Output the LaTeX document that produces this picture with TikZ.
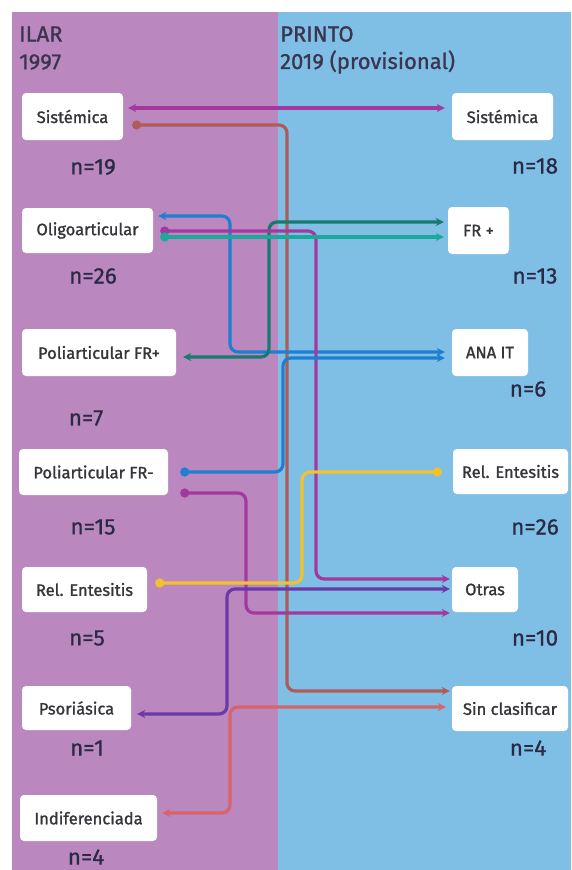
\documentclass[tikz,border=0pt]{standalone}
\usepackage{fontspec}
\setmainfont{Fira Sans}
\usetikzlibrary{arrows.meta}
\definecolor{bgpurple}{HTML}{BA88BE}
\definecolor{bgblue}{HTML}{80BFE5}
\definecolor{boxtext}{HTML}{35353A}
\definecolor{ntext}{HTML}{2B2A45}
\definecolor{hdrtext}{HTML}{3B3550}
\definecolor{magc}{HTML}{A3399E}
\definecolor{brownc}{HTML}{B05A5A}
\definecolor{bluec}{HTML}{1E7FD0}
\definecolor{tealc}{HTML}{1AAA9A}
\definecolor{dtealc}{HTML}{167A6E}
\definecolor{yellowc}{HTML}{F2C12E}
\definecolor{violetc}{HTML}{6A3AA8}
\definecolor{pinkc}{HTML}{D9636B}
\newcommand\myboxfont{\fontsize{16.5}{19}\selectfont\addfontfeature{FakeBold=1.3}}
\newcommand\mynfont{\fontsize{22.5}{26}\selectfont\addfontfeature{FakeBold=0.8}}
\newcommand\myhdrfont{\fontsize{22}{26}\selectfont\addfontfeature{FakeBold=1}}
\tikzset{
  lbox/.style={fill=white, rounded corners=4pt, font=\myboxfont, text=boxtext, inner sep=0pt},
  nlab/.style={font=\mynfont, text=ntext, inner sep=0pt},
  hdr/.style={font=\myhdrfont, text=hdrtext, inner sep=0pt, anchor=west},
  conn/.style={line width=3.2pt, rounded corners=8pt},
  mytip/.tip={Stealth[length=8pt,width=8pt]},
  mydot/.tip={Circle[length=9pt]}
}
\begin{document}
\begin{tikzpicture}[x=1pt,y=-1pt]
\useasboundingbox (0,0) rectangle (571,870);
\fill[white] (0,0) rectangle (571,870);
\fill[bgpurple] (12,12) rectangle (278,870);
\fill[bgblue] (278,12) rectangle (571,870);

% headers
\node[hdr] (h1) at (19,34) {ILAR};
\node[hdr] (h2) at (19,62) {1997};
\node[hdr] (h3) at (280,34) {PRINTO};
\node[hdr] (h4) at (280,62) {2019 (provisional)};

% left boxes
\node[lbox, minimum width=101pt, minimum height=47pt] (lSis) at (72.5,116.5) {Sistémica};
\node[lbox, minimum width=131pt, minimum height=45pt] (lOli) at (87.5,230.5) {Oligoarticular};
\node[lbox, minimum width=154pt, minimum height=47pt] (lPp) at (99,352.5) {Poliarticular FR+};
\node[lbox, minimum width=149pt, minimum height=46pt] (lPm) at (93.5,472) {Poliarticular FR-};
\node[lbox, minimum width=125pt, minimum height=45pt] (lRe) at (84.5,589.5) {Rel. Entesitis};
\node[lbox, minimum width=109pt, minimum height=44pt] (lPso) at (76.5,708) {Psoriásica};
\node[lbox, minimum width=137pt, minimum height=46pt] (lInd) at (88.5,818) {Indiferenciada};

% right boxes
\node[lbox, minimum width=101pt, minimum height=47pt] (rSis) at (502.5,116.5) {Sistémica};
\node[lbox, minimum width=61pt, minimum height=47pt] (rFR) at (478.5,230.5) {FR +};
\node[lbox, minimum width=76pt, minimum height=47pt] (rAna) at (490,352.5) {ANA IT};
\node[lbox, minimum width=115pt, minimum height=45pt] (rRe) at (510.5,471.5) {Rel. Entesitis};
\node[lbox, minimum width=66pt, minimum height=45pt] (rOtr) at (485,589.5) {Otras};
\node[lbox, minimum width=116pt, minimum height=45pt] (rSin) at (510,708.5) {Sin clasificar};

% n labels left
\node[nlab] (nl1) at (93,167) {n=19};
\node[nlab] (nl2) at (93,276) {n=26};
\node[nlab] (nl3) at (86,418) {n=7};
\node[nlab] (nl4) at (93,527) {n=15};
\node[nlab] (nl5) at (87,638) {n=5};
\node[nlab] (nl6) at (87,748) {n=1};
\node[nlab] (nl7) at (86,857) {n=4};
% n labels right
\node[nlab] (nr1) at (535,166) {n=18};
\node[nlab] (nr2) at (535,276) {n=13};
\node[nlab] (nr3) at (528,389) {n=6};
\node[nlab] (nr4) at (535,527) {n=26};
\node[nlab] (nr5) at (535,638) {n=10};
\node[nlab] (nr6) at (528,748) {n=4};

% lanes
\coordinate (laneBr) at (287,0);
\coordinate (laneB1) at (230,0);
\coordinate (laneMg1) at (316,0);
\coordinate (laneDT) at (269,0);
\coordinate (laneB2) at (283,0);
\coordinate (laneMg2) at (246,0);
\coordinate (laneY) at (302,0);
\coordinate (laneV) at (227,0);
\coordinate (laneP) at (230,0);

% end points
\coordinate (mgS1) at ([xshift=5pt,yshift=8.5pt]lSis.east);
\coordinate (mgE1) at ([xshift=-7pt,yshift=8.5pt]rSis.west);
\coordinate (brS) at ([xshift=9pt,yshift=-8.5pt]lSis.east);
\coordinate (brE) at ([xshift=-2pt,yshift=17.5pt]rSin.west);
\coordinate (b1S) at ([xshift=5pt,yshift=14.5pt]lOli.east);
\coordinate (b1E) at ([xshift=-7pt,yshift=0.5pt]rAna.west);
\coordinate (mg2S) at ([xshift=7pt,yshift=-0.5pt]lOli.east);
\coordinate (mg2E) at ([xshift=-2pt,yshift=10.5pt]rOtr.west);
\coordinate (tlS) at ([xshift=7pt,yshift=-6.5pt]lOli.east);
\coordinate (tlE) at ([xshift=-4pt,yshift=-6.5pt]rFR.west);
\coordinate (dtS) at ([xshift=7pt,yshift=-4.5pt]lPp.east);
\coordinate (dtE) at ([xshift=-4pt,yshift=8.5pt]rFR.west);
\coordinate (b2S) at ([xshift=12pt]lPm.east);
\coordinate (b2E) at ([xshift=-7pt,yshift=-5.5pt]rAna.west);
\coordinate (mg3S) at ([xshift=12pt,yshift=-21pt]lPm.east);
\coordinate (mg3E) at ([xshift=-2pt,yshift=-23.5pt]rOtr.west);
\coordinate (yS) at ([xshift=8pt,yshift=6.5pt]lRe.east);
\coordinate (yE) at ([xshift=-11pt,yshift=-0.5pt]rRe.west);
\coordinate (vS) at ([xshift=6pt,yshift=-6pt]lPso.east);
\coordinate (vE) at ([xshift=-2pt,yshift=0.5pt]rOtr.west);
\coordinate (pS) at ([xshift=5pt,yshift=5pt]lInd.east);
\coordinate (pE) at ([xshift=-6pt,yshift=1.5pt]rSin.west);

% connectors
\draw[conn, brownc, mydot-mytip] (brS) -- (brS -| laneBr) -- (brE -| laneBr) -- (brE);
\draw[conn, magc, mytip-mytip] (mgS1) -- (mgE1);
\draw[conn, bluec, mytip-mytip] (b1S) -- (b1S -| laneB1) -- (b1E -| laneB1) -- (b1E);
\draw[conn, dtealc, mytip-mytip] (dtS) -- (dtS -| laneDT) -- (dtE -| laneDT) -- (dtE);
\draw[conn, magc, mydot-mytip] (mg2S) -- (mg2S -| laneMg1) -- (mg2E -| laneMg1) -- (mg2E);
\draw[conn, tealc, mydot-mytip] (tlS) -- (tlE);
\draw[conn, bluec, mydot-mytip] (b2S) -- (b2S -| laneB2) -- (b2E -| laneB2) -- (b2E);
\draw[conn, magc, mydot-mytip] (mg3S) -- (mg3S -| laneMg2) -- (mg3E -| laneMg2) -- (mg3E);
\draw[conn, yellowc, mydot-mydot] (yS) -- (yS -| laneY) -- (yE -| laneY) -- (yE);
\draw[conn, violetc, mytip-mytip] (vS) -- (vS -| laneV) -- (vE -| laneV) -- (vE);
\draw[conn, pinkc, mytip-mytip] (pS) -- (pS -| laneP) -- (pE -| laneP) -- (pE);
\end{tikzpicture}
\end{document}
